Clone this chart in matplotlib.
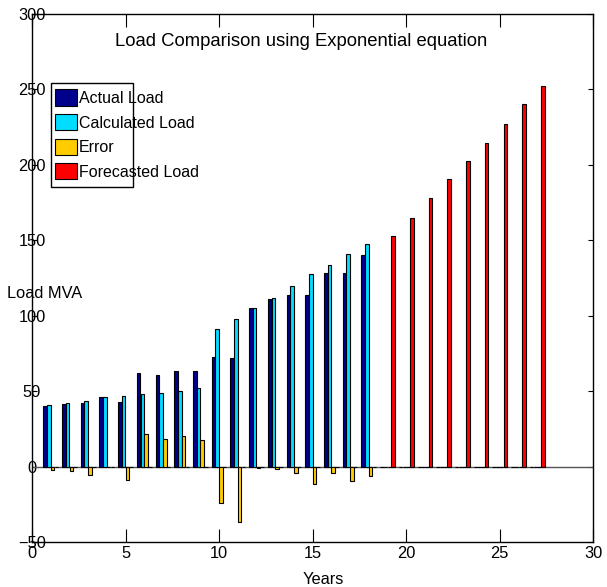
import numpy as np
import matplotlib
import matplotlib.pyplot as plt
from matplotlib.patches import Rectangle

font = {'size': 11.8, 'family': 'Liberation Sans'}
matplotlib.rc('font', **font)

## Values (MVA)
years = np.arange(1, 28)
actual = [40.3, 41.2, 42.1, 45.8, 43.0, 62.0, 60.5, 63.3, 63.3, 72.7,
          72.2, 105.4, 111.1, 114.0, 113.8, 128.6, 128.6, 140.5]
calculated = [41.0, 42.1, 43.6, 45.8, 46.5, 48.1, 49.0, 50.0, 51.8, 90.9,
              97.9, 104.9, 111.8, 119.4, 127.4, 133.7, 140.6, 147.8]
error = [-2.6, -2.9, -5.3, -0.3, -8.8, 21.9, 18.4, 20.3, 17.4, -24.3,
         -36.7, -0.8, -1.8, -4.4, -11.5, -4.4, -9.7, -6.4]
forecast = [152.9, 164.9, 178.2, 190.3, 202.7, 214.7, 227.3, 240.5, 252.5]

n_hist = len(actual)
n_fore = len(forecast)
pad = [0.0]*n_fore
series = [
    ('Actual Load', actual + pad, '#00008C'),
    ('Calculated Load', calculated + pad, '#00DDFF'),
    ('Error', error + pad, '#FFCC00'),
    ('Forecasted Load', [0.0]*n_hist + forecast, '#FF0000'),
]

fig = plt.figure(figsize=(6.07, 5.87), dpi=100)
ax = fig.add_axes([32/607, 45/587, 561.3/607, 528/587])

offsets = [-0.3, -0.1, 0.1, 0.3]
for (name, vals, col), off in zip(series, offsets):
    ax.bar(years + off, vals, width=0.19, color=col, edgecolor='black',
           linewidth=0.8, label=name, zorder=3)
ax.axhline(0, color='#555555', lw=1, zorder=2)

ax.set_xlim(0, 30)
ax.set_ylim(-50, 300)
ax.set_xticks(np.arange(0, 31, 5))
ax.set_yticks(np.arange(-50, 301, 50))
ax.tick_params(axis='x', direction='in', length=9.5, top=True, pad=3)
ax.tick_params(axis='y', direction='in', length=3.6, right=True, pad=0)
for lab in ax.get_yticklabels():
    lab.set_horizontalalignment('center')
for sp in ax.spines.values():
    sp.set_linewidth(1)

fig.text(301/607, 1 - 42/587, 'Load Comparison using Exponential equation',
         ha='center', va='center', fontsize=13.3)
fig.text(7/607, 1 - 293/587, 'Load MVA', ha='left', va='center')
fig.text(323/607, 1 - 579/587, 'Years', ha='center', va='center')

# legend box in the original is drawn narrower than its text
leg = ax.legend(loc='upper left', bbox_to_anchor=(55/607, 1 - 89.5/587),
                bbox_transform=fig.transFigure, frameon=False, borderpad=0,
                fontsize=11.5, handlelength=1.37, handleheight=1.19,
                handletextpad=0.12, labelspacing=0.5, borderaxespad=0)
fig.patches.append(Rectangle((50.7/607, 1 - 186.7/587), 82.6/607, 104/587,
                             transform=fig.transFigure, fill=False,
                             edgecolor='black', lw=1, zorder=5))

fig.savefig('out.png', dpi=100)
